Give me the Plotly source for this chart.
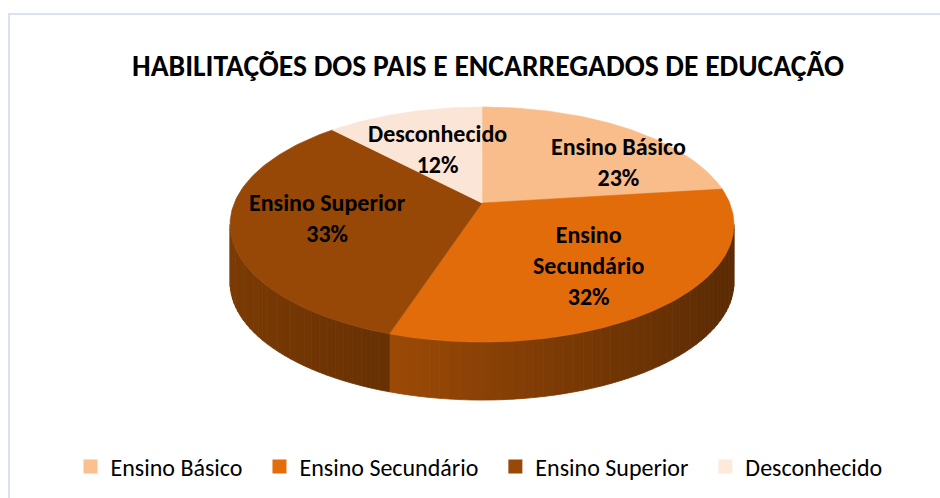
import math
import plotly.graph_objects as go

# ---- data ----
categories = ["Ensino Básico", "Ensino Secundário", "Ensino Superior", "Desconhecido"]
values = [23, 32, 33, 12]
colors = ["#F8BD8B", "#E36C0A", "#974806", "#FBE5D6"]
legend_colors = ["#FAC090", "#E46C0A", "#984807", "#FDEADA"]
title_text = "HABILITAÇÕES DOS PAIS E ENCARREGADOS DE EDUCAÇÃO"

# ---- layout / projection parameters (pixel space) ----
W, H = 940, 498
CX, CY = 482.0, 203.0      # projected pie centre
A, B = 247.7, 113.6        # horizontal / vertical radii factors
K = 0.183                  # perspective factor
DEPTH = 58.0               # thickness of the pie
FONT = "Carlito, Calibri, Lato, 'Open Sans', sans-serif"

# label anchor positions (layout only)
label_pos = [(618, 162), (588, 265), (327, 218), (437, 149)]


def proj(theta_deg, r=1.0, dz=0.0):
    t = math.radians(theta_deg)
    u, v = r * math.sin(t), r * math.cos(t)
    d = 1.0 + K * v
    return CX + A * u / d, CY - B * v / d + dz


def hex_rgb(h):
    h = h.lstrip("#")
    return tuple(int(h[i:i + 2], 16) for i in (0, 2, 4))


def shade(h, f):
    r, g, b = hex_rgb(h)
    return "rgb(%d,%d,%d)" % (r * f, g * f, b * f)


fig = go.Figure()

total = float(sum(values))
bounds = []
acc = 0.0
for v in values:
    t0 = acc / total * 360.0
    acc += v
    t1 = acc / total * 360.0
    bounds.append((t0, t1))

# visible front side range
vis0 = math.degrees(math.acos(-K))
vis1 = 360.0 - vis0
x_left, x_right = CX - A / math.sqrt(1 - K * K), CX + A / math.sqrt(1 - K * K)

# ---- side walls (strips for gradient shading) ----
for (t0, t1), col in zip(bounds, colors):
    a0, a1 = max(t0, vis0), min(t1, vis1)
    if a1 <= a0:
        continue
    n = max(1, int(math.ceil((a1 - a0) / 2.0)))
    for i in range(n):
        s0 = a0 + (a1 - a0) * i / n
        s1 = a0 + (a1 - a0) * (i + 1) / n
        steps = [s0 + (s1 - s0) * j / 4 for j in range(5)]
        top = [proj(s) for s in steps]
        bot = [proj(s, dz=DEPTH) for s in reversed(steps)]
        pts = top + bot + [top[0]]
        xm = proj((s0 + s1) / 2)[0]
        f = 0.82 - 0.42 * (xm - x_left) / (x_right - x_left)
        c = shade(col, f)
        fig.add_trace(go.Scatter(
            x=[p[0] for p in pts], y=[p[1] for p in pts],
            mode="lines", fill="toself", fillcolor=c,
            line=dict(color=c, width=0.8),
            hoverinfo="skip", showlegend=False))

# ---- top faces ----
for (t0, t1), col, name, val in zip(bounds, colors, categories, values):
    n = max(2, int(math.ceil(t1 - t0)))
    arc = [proj(t0 + (t1 - t0) * j / n) for j in range(n + 1)]
    pts = [(CX, CY)] + arc + [(CX, CY)]
    fig.add_trace(go.Scatter(
        x=[p[0] for p in pts], y=[p[1] for p in pts],
        mode="lines", fill="toself", fillcolor=col,
        line=dict(color=col, width=0.6),
        name=name, hoverinfo="name+text", text="%d%%" % val,
        showlegend=False))

# ---- legend entries ----
for i, (name, col) in enumerate(zip(categories, legend_colors)):
    pad = "\u2002" if i < len(categories) - 1 else ""
    fig.add_trace(go.Scatter(
        x=[None], y=[None], mode="markers", name=name + pad,
        marker=dict(symbol="square", size=14, color=col),
        showlegend=True))

# ---- data labels ----
label_texts = [
    "Ensino Básico<br>%d%%" % values[0],
    "Ensino<br>Secundário<br>%d%%" % values[1],
    "Ensino Superior<br>%d%%" % values[2],
    "Desconhecido<br>%d%%" % values[3],
]
annotations = []
for (lx, ly), txt in zip(label_pos, label_texts):
    annotations.append(dict(
        x=lx, y=ly, xref="x", yref="y", text="<b>%s</b>" % txt,
        showarrow=False, xanchor="center", yanchor="middle",
        font=dict(family=FONT, size=24, color="#000000")))

fig.update_layout(
    width=W, height=H,
    margin=dict(l=0, r=0, t=0, b=0),
    paper_bgcolor="white", plot_bgcolor="white",
    xaxis=dict(range=[0, W], visible=False, fixedrange=True),
    yaxis=dict(range=[H, 0], visible=False, fixedrange=True),
    title=dict(text="<b>%s</b>" % title_text, x=488.0 / W, xanchor="center",
               y=1 - 66.0 / H, yanchor="middle",
               font=dict(family=FONT, size=29.6, color="#000000")),
    legend=dict(orientation="h", x=479.0 / W, xanchor="center",
                y=1 - 467.0 / H, yanchor="middle",
                font=dict(family=FONT, size=24, color="#000000"),
                itemclick=False, itemdoubleclick=False),
    annotations=annotations,
    shapes=[dict(type="rect", xref="paper", yref="paper",
                 x0=9.0 / W, x1=1.02, y0=-0.02, y1=1 - 14.0 / H,
                 line=dict(color="#D9E2F0", width=2), layer="below")],
    showlegend=True,
)

fig.write_html("out.html",
               config={"displayModeBar": False},
               post_script="document.body.style.margin='0px';document.body.style.overflow='hidden';")
